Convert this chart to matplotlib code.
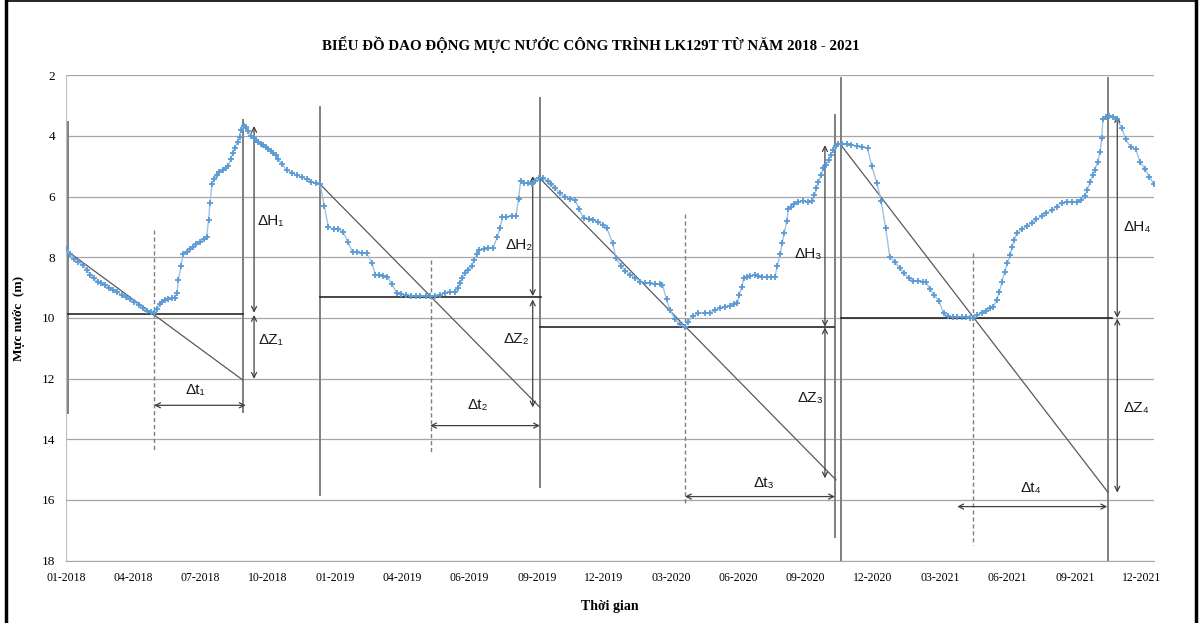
import matplotlib
matplotlib.use("Agg")
import matplotlib.pyplot as plt
from matplotlib.lines import Line2D

# Mực nước quan trắc LK129T (m), trục hoành theo vị trí nhãn thời gian
x_muc = [0.00, 0.06, 0.12, 0.18, 0.25, 0.31, 0.36, 0.41, 0.47, 0.52, 0.58, 0.64, 0.70, 0.76,
         0.83, 0.89, 0.95, 1.01, 1.08, 1.14, 1.20, 1.26, 1.31, 1.35, 1.39, 1.42, 1.47, 1.52,
         1.57, 1.62, 1.65, 1.67, 1.71, 1.74, 1.80, 1.84, 1.89, 1.94, 1.99, 2.05, 2.09, 2.12,
         2.14, 2.17, 2.20, 2.24, 2.28, 2.33, 2.38, 2.41, 2.45, 2.48, 2.51, 2.55, 2.58, 2.60,
         2.64, 2.67, 2.71, 2.75, 2.79, 2.82, 2.86, 2.90, 2.93, 2.97, 3.01, 3.05, 3.08, 3.12,
         3.15, 3.21, 3.28, 3.36, 3.43, 3.51, 3.58, 3.65, 3.71, 3.78, 3.84, 3.90, 3.98, 4.05,
         4.12, 4.19, 4.26, 4.32, 4.40, 4.47, 4.55, 4.60, 4.65, 4.72, 4.78, 4.84, 4.92, 4.98,
         5.05, 5.13, 5.20, 5.27, 5.35, 5.41, 5.49, 5.56, 5.64, 5.71, 5.78, 5.83, 5.86, 5.89,
         5.93, 5.98, 6.03, 6.07, 6.11, 6.14, 6.21, 6.28, 6.35, 6.41, 6.45, 6.49, 6.55, 6.63,
         6.69, 6.73, 6.76, 6.81, 6.87, 6.93, 6.97, 7.04, 7.10, 7.16, 7.21, 7.27, 7.35, 7.42,
         7.49, 7.57, 7.63, 7.70, 7.78, 7.84, 7.91, 7.98, 8.04, 8.13, 8.18, 8.25, 8.31, 8.39,
         8.46, 8.54, 8.61, 8.68, 8.76, 8.83, 8.87, 8.93, 8.98, 9.06, 9.13, 9.20, 9.25, 9.32,
         9.40, 9.50, 9.58, 9.65, 9.73, 9.80, 9.87, 9.94, 9.98, 10.01, 10.05, 10.08, 10.12, 10.17,
         10.24, 10.29, 10.35, 10.42, 10.48, 10.54, 10.58, 10.62, 10.65, 10.68, 10.72, 10.74, 10.78, 10.83,
         10.89, 10.96, 11.04, 11.10, 11.13, 11.16, 11.19, 11.23, 11.26, 11.30, 11.34, 11.37, 11.41, 11.45,
         11.48, 11.54, 11.61, 11.68, 11.76, 11.83, 11.92, 11.98, 12.06, 12.12, 12.19, 12.25, 12.33, 12.40,
         12.46, 12.53, 12.60, 12.67, 12.74, 12.79, 12.85, 12.91, 12.98, 13.05, 13.11, 13.19, 13.25, 13.32,
         13.38, 13.44, 13.49, 13.55, 13.62, 13.68, 13.74, 13.79, 13.84, 13.88, 13.92, 13.96, 14.00, 14.04,
         14.07, 14.10, 14.14, 14.21, 14.29, 14.36, 14.43, 14.51, 14.58, 14.66, 14.73, 14.81, 14.88, 14.96,
         15.03, 15.10, 15.15, 15.19, 15.23, 15.27, 15.30, 15.34, 15.38, 15.40, 15.42, 15.47, 15.51, 15.57,
         15.63, 15.70, 15.76, 15.83, 15.91, 15.97, 16.05, 16.11, 16.18]
y_muc = [7.73, 7.89, 8.04, 8.15, 8.25, 8.42, 8.58, 8.69, 8.80, 8.86, 8.91, 9.00, 9.08, 9.16,
         9.24, 9.32, 9.39, 9.46, 9.57, 9.68, 9.76, 9.80, 9.83, 9.72, 9.54, 9.46, 9.41, 9.38,
         9.35, 9.33, 9.17, 8.75, 8.28, 7.89, 7.82, 7.73, 7.65, 7.56, 7.49, 7.41, 7.34, 6.77,
         6.22, 5.58, 5.43, 5.29, 5.18, 5.12, 5.07, 4.98, 4.77, 4.57, 4.41, 4.19, 4.02, 3.80,
         3.67, 3.70, 3.85, 4.00, 4.06, 4.12, 4.19, 4.25, 4.30, 4.37, 4.44, 4.50, 4.57, 4.64,
         4.76, 4.92, 5.12, 5.21, 5.29, 5.36, 5.43, 5.52, 5.56, 5.59, 6.31, 6.99, 7.08, 7.08,
         7.16, 7.49, 7.82, 7.84, 7.85, 7.87, 8.18, 8.58, 8.58, 8.61, 8.64, 8.88, 9.17, 9.22,
         9.24, 9.27, 9.28, 9.28, 9.28, 9.28, 9.27, 9.24, 9.17, 9.16, 9.14, 9.00, 8.84, 8.69,
         8.53, 8.42, 8.28, 8.09, 7.89, 7.76, 7.73, 7.70, 7.70, 7.34, 7.05, 6.68, 6.66, 6.64,
         6.64, 6.07, 5.48, 5.54, 5.56, 5.58, 5.49, 5.38, 5.40, 5.48, 5.58, 5.73, 5.89, 6.00,
         6.09, 6.11, 6.42, 6.72, 6.74, 6.77, 6.83, 6.94, 7.02, 7.54, 8.03, 8.28, 8.44, 8.58,
         8.67, 8.80, 8.84, 8.86, 8.88, 8.89, 8.91, 9.39, 9.74, 10.05, 10.20, 10.29, 10.12, 9.94,
         9.85, 9.83, 9.83, 9.74, 9.68, 9.63, 9.60, 9.55, 9.52, 9.24, 8.97, 8.69, 8.66, 8.62,
         8.58, 8.61, 8.64, 8.64, 8.64, 8.66, 8.28, 7.89, 7.54, 7.19, 6.79, 6.42, 6.33, 6.25,
         6.17, 6.14, 6.17, 6.13, 5.95, 5.73, 5.51, 5.29, 5.07, 4.96, 4.79, 4.63, 4.46, 4.33,
         4.28, 4.28, 4.28, 4.30, 4.33, 4.35, 4.41, 4.98, 5.56, 6.13, 7.05, 7.98, 8.16, 8.36,
         8.53, 8.69, 8.78, 8.79, 8.80, 8.82, 9.06, 9.24, 9.43, 9.85, 9.94, 9.96, 9.97, 9.98,
         9.98, 9.99, 9.99, 9.90, 9.83, 9.76, 9.68, 9.63, 9.41, 9.14, 8.80, 8.47, 8.18, 7.93,
         7.65, 7.43, 7.19, 7.08, 6.97, 6.86, 6.75, 6.64, 6.53, 6.44, 6.33, 6.20, 6.17, 6.17,
         6.17, 6.11, 5.98, 5.78, 5.51, 5.29, 5.12, 4.85, 4.52, 4.08, 3.45, 3.36, 3.34, 3.38,
         3.45, 3.75, 4.11, 4.37, 4.44, 4.85, 5.10, 5.34, 5.59]

nhan_thoi_gian = ["01-2018", "04-2018", "07-2018", "10-2018", "01-2019", "04-2019",
                  "06-2019", "09-2019", "12-2019", "03-2020", "06-2020", "09-2020",
                  "12-2020", "03-2021", "06-2021", "09-2021", "12-2021"]

# Các đường dựng hình cho từng chu kỳ: đường thẳng đứng, mực nước thấp nhất, đường hạ thấp
duong_dung = [(0.025, 3.53, 13.12), (2.627, 3.47, 13.09), (3.777, 3.03, 15.84),
              (7.041, 2.76, 15.56), (11.435, 3.31, 17.21), (11.524, 2.10, 18.0),
              (15.499, 2.10, 18.0)]
duong_ngang = [(0.0, 2.627, 9.88), (3.777, 7.059, 9.30), (7.048, 11.425, 10.30),
               (11.524, 15.554, 10.01)]
duong_cheo = [((0.01, 7.78), (2.63, 12.05)), ((3.777, 5.59), (7.048, 12.95)),
              ((7.038, 5.38), (11.450, 15.34)), ((11.524, 4.30), (15.499, 15.76))]
duong_net_dut = [(1.304, 7.10, 14.41), (5.423, 8.09, 14.44), (9.204, 6.57, 16.17),
                 (13.491, 7.87, 17.49)]

# Mũi tên ΔH, ΔZ (thẳng đứng) và Δt (nằm ngang)
mui_ten_dh = [(2.796, 3.67, 9.83), (6.940, 5.32, 9.28), (11.286, 4.30, 10.29),
              (15.633, 3.34, 10.00)]
mui_ten_dz = [(2.796, 9.90, 12.01), (6.940, 9.39, 12.95), (11.286, 10.31, 15.29),
              (15.633, 10.02, 15.76)]
mui_ten_dt = [(12.88, 1.309, 2.672), (13.55, 5.413, 7.048), (15.89, 9.204, 11.435),
              (16.22, 13.253, 15.484)]

nhan_dh = [("ΔH₁", 2.84, 6.80), ("ΔH₂", 6.54, 7.60), ("ΔH₃", 10.84, 7.89), ("ΔH₄", 15.72, 6.99)]
nhan_dz = [("ΔZ₁", 2.855, 10.73), ("ΔZ₂", 6.51, 10.69), ("ΔZ₃", 10.885, 12.63), ("ΔZ₄", 15.72, 12.98)]
nhan_dt = [("Δt₁", 1.918, 12.37), ("Δt₂", 6.119, 12.87), ("Δt₃", 10.379, 15.43), ("Δt₄", 14.349, 15.60)]

serif = ["Liberation Serif", "DejaVu Serif"]
sans = ["Liberation Sans", "DejaVu Sans"]

fig = plt.figure(figsize=(12.03, 6.23), dpi=100)
ax = fig.add_axes([0.0549, 0.1002, 0.9044, 0.7789])

ax.set_xlim(0, 16.18)
ax.set_ylim(18, 2)
ax.set_yticks(range(2, 19, 2))
ax.set_xticks(range(len(nhan_thoi_gian)))
ax.set_xticklabels(nhan_thoi_gian, family=serif, fontsize=8.5)
for t in ax.get_yticklabels():
    t.set_family(serif)
    t.set_fontsize(9.5)
ax.tick_params(length=0, pad=8)
ax.yaxis.grid(True, color="#a6a6a6", lw=0.9)
ax.set_axisbelow(True)
for s in ["top", "right"]:
    ax.spines[s].set_visible(False)
ax.spines["left"].set_color("#bfbfbf")
ax.spines["bottom"].set_color("#a6a6a6")

# Chuỗi số liệu mực nước
ax.plot(x_muc, y_muc, color="#9dc3e6", lw=1.0, zorder=3)
ax.plot(x_muc, y_muc, ls="none", marker="+", ms=4.5, mew=1.3, color="#5b9bd5", zorder=4)

for x, y0, y1 in duong_dung:
    ax.plot([x, x], [y0, y1], color="#7f7f7f", lw=1.4, zorder=2)
for x0, x1, y in duong_ngang:
    ax.plot([x0, x1], [y, y], color="#262626", lw=1.2, zorder=2)
for (x0, y0), (x1, y1) in duong_cheo:
    ax.plot([x0, x1], [y0, y1], color="#595959", lw=0.9, zorder=2)
for x, y0, y1 in duong_net_dut:
    ax.plot([x, x], [y0, y1], color="#7f7f7f", lw=1.0, ls=(0, (3, 2)), zorder=2)

mui_ten = dict(arrowstyle="<->", color="#404040", lw=0.9, shrinkA=0, shrinkB=0,
               mutation_scale=9)
for x, y0, y1 in mui_ten_dh + mui_ten_dz:
    ax.annotate("", xy=(x, y0), xytext=(x, y1), arrowprops=mui_ten)
for y, x0, x1 in mui_ten_dt:
    ax.annotate("", xy=(x0, y), xytext=(x1, y), arrowprops=mui_ten)

for txt, x, y in nhan_dh + nhan_dz:
    ax.text(x, y, txt, family=sans, fontsize=11, ha="left", va="center", color="#1a1a1a")
for txt, x, y in nhan_dt:
    ax.text(x, y, txt, family=sans, fontsize=11, ha="center", va="center", color="#1a1a1a")

fig.text(0.491, 0.929, "BIỂU ĐỒ DAO ĐỘNG MỰC NƯỚC CÔNG TRÌNH LK129T TỪ NĂM 2018 - 2021",
         family=serif, fontsize=10.85, fontweight="bold", ha="center", va="center")
ax.set_ylabel("Mực nước  (m)", family=serif, fontsize=9.5, fontweight="bold", labelpad=12)
ax.set_xlabel("Thời gian", family=serif, fontsize=10, fontweight="bold", labelpad=12)

# Khung viền hình
fig.add_artist(Line2D([0.005, 0.005], [0, 1], color="black", lw=2.5))
fig.add_artist(Line2D([0.9945, 0.9945], [0, 1], color="black", lw=2.5))
fig.add_artist(Line2D([0.005, 0.9945], [0.999, 0.999], color="black", lw=1.2))

fig.savefig("out.png", dpi=100)
